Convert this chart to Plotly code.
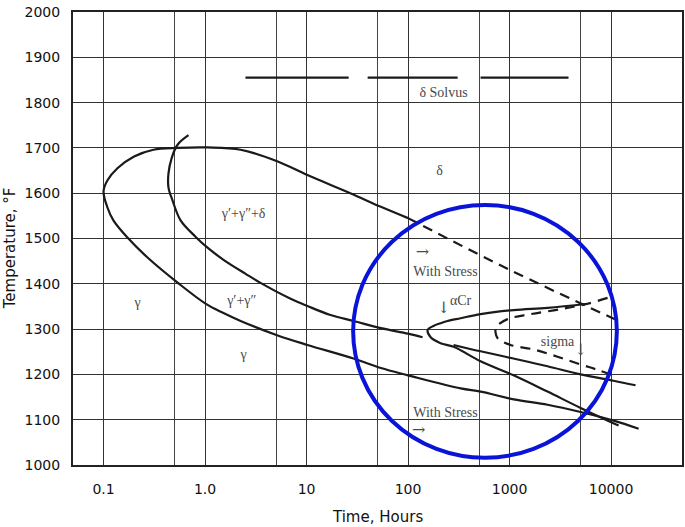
import plotly.graph_objects as go

# delta start curve: upper branch from 100 h back to the nose at 0.1 h, then lower branch
delta_time = [100, 54, 27, 10.2, 5.2, 2.24, 1.06, 0.54, 0.31, 0.2, 0.137, 0.109, 0.1,
              0.109, 0.125, 0.172, 0.271, 0.54, 1.03, 1.5, 2.24, 5.2, 10.2, 29, 54, 100,
              330, 520, 1100, 2370, 5000, 10600, 18700]
delta_temp = [1545, 1570, 1600, 1640, 1670, 1696, 1701, 1700, 1696, 1681, 1655, 1628, 1604,
              1569, 1540, 1502, 1458, 1402, 1355, 1336, 1318, 1286, 1265, 1235, 1214, 1198,
              1169, 1162, 1145, 1133, 1117, 1098, 1080]

# delta with stress (dashed)
stress_time = [100, 1000, 11900]
stress_temp = [1545, 1431, 1318]

# gamma' + gamma'' start curve
gp_time = [0.687, 0.536, 0.468, 0.436, 0.436, 0.478, 0.574, 0.805, 1.08, 1.52, 2.51, 3.52,
           6.96, 10.2, 17.2, 29, 54, 100, 139]
gp_temp = [1728, 1707, 1677, 1643, 1613, 1584, 1540, 1504, 1478, 1453, 1422, 1402,
           1367, 1351, 1331, 1318, 1302, 1290, 1282]

# alpha Cr curve
acr_time = [5865, 2366, 1095, 518, 329, 245, 209, 178, 156, 167, 209, 281, 518, 1095,
            2366, 5010, 11860]
acr_temp = [1356, 1347, 1342, 1333, 1324, 1318, 1313, 1307, 1298, 1282, 1269, 1261,
            1229, 1198, 1162, 1126, 1087]

# sigma curve (dashed)
sigma_time = [9240, 5865, 3180, 1610, 955, 740, 728, 762, 1023, 1723, 2970, 5010, 7360, 10350]
sigma_temp = [1369, 1356, 1344, 1333, 1322, 1305, 1292, 1280, 1265, 1255, 1239, 1222, 1210, 1198]

# sigma with stress line
sstress_time = [281, 518, 1095, 2366, 5010, 10590, 17420]
sstress_temp = [1265, 1251, 1235, 1218, 1200, 1186, 1176]

# delta solvus segments
solvus_time = [2.5, 26, None, 40, 308, None, 518, 3810]
solvus_temp = [1855, 1855, None, 1855, 1855, None, 1855, 1855]

label_text = ["δ Solvus", "δ", "γ′+γ″+δ", "γ′+γ″", "γ", "γ", "With Stress",
              "αCr", "sigma", "With Stress"]
label_time = [224, 204, 2.4, 2.3, 0.216, 2.4, 234, 329, 2970, 234]
label_temp = [1819, 1649, 1554, 1362, 1356, 1241, 1424, 1360, 1271, 1114]

arrow_text = ["→", "↓", "↓", "→"]
arrow_time = [139, 224, 5010, 127]
arrow_temp = [1469, 1344, 1251, 1074]

x_ticks = [0.1, 1, 10, 100, 1000, 10000]
x_ticktext = ["0.1", "1.0", "10", "100", "1000", "10000"]
x_minor = [0.5, 5, 50, 500, 5000]
y_ticks = list(range(1000, 2001, 100))

ink = "#1a1a1a"
fig = go.Figure()

def curve(t, T, dash="solid"):
    fig.add_trace(go.Scatter(x=t, y=T, mode="lines",
                             line=dict(color=ink, width=2.2, dash=dash, shape="spline", smoothing=1),
                             showlegend=False, hoverinfo="skip"))

curve(delta_time, delta_temp)
curve(stress_time, stress_temp, "10px,7px")
curve(gp_time, gp_temp)
curve(acr_time, acr_temp)
curve(sigma_time, sigma_temp, "10px,7px")
curve(sstress_time, sstress_temp)
fig.add_trace(go.Scatter(x=solvus_time, y=solvus_temp, mode="lines",
                         line=dict(color=ink, width=2.2), showlegend=False, hoverinfo="skip"))

fig.add_trace(go.Scatter(x=label_time, y=label_temp, mode="text", text=label_text,
                         textfont=dict(family="Liberation Serif", size=14, color="#4a4a4a"),
                         showlegend=False, hoverinfo="skip"))
fig.add_trace(go.Scatter(x=arrow_time, y=arrow_temp, mode="text", text=arrow_text,
                         textfont=dict(family="DejaVu Serif", size=16, color="#4a4a4a"),
                         showlegend=False, hoverinfo="skip"))

# highlight circle
fig.add_shape(type="circle", xref="paper", yref="paper",
              x0=0.460, x1=0.893, y0=0.016, y1=0.574,
              line=dict(color="#0a14d8", width=4))

fig.add_annotation(text="Temperature, °F", xref="paper", yref="paper",
                   x=-0.103, y=0.479, xanchor="center", yanchor="middle",
                   textangle=-90, showarrow=False,
                   font=dict(family="DejaVu Sans", size=15, color="#111"))
fig.add_annotation(text="Time, Hours", xref="paper", yref="paper",
                   x=0.5, y=-0.115, xanchor="center", yanchor="middle", showarrow=False,
                   font=dict(family="DejaVu Sans", size=15, color="#111"))

fig.update_layout(
    width=685, height=527,
    paper_bgcolor="white", plot_bgcolor="white",
    margin=dict(l=73, r=3, t=12, b=62),
    font=dict(family="DejaVu Sans", size=14, color="#111"),
    xaxis=dict(type="log", range=[-1.301, 4.699], tickvals=x_ticks, ticktext=x_ticktext,
               showgrid=True, gridcolor="#333", gridwidth=1.3, automargin=False,
               minor=dict(tickvals=x_minor, showgrid=True, gridcolor="#444", gridwidth=1.1),
               ticks="outside", ticklen=10, tickcolor="rgba(0,0,0,0)",
               showline=True, mirror=True, linecolor="#222", linewidth=2, zeroline=False),
    yaxis=dict(range=[1000, 2000], tickvals=y_ticks, automargin=False,
               showgrid=True, gridcolor="#333", gridwidth=1.3,
               ticks="outside", ticklen=8, tickcolor="rgba(0,0,0,0)",
               showline=True, mirror=True, linecolor="#222", linewidth=2, zeroline=False),
)

# drop the browser's default body margin so the figure sits at the page corner
fig.write_html("out.html", config={"displayModeBar": False},
               post_script="document.body.style.margin='0';")
